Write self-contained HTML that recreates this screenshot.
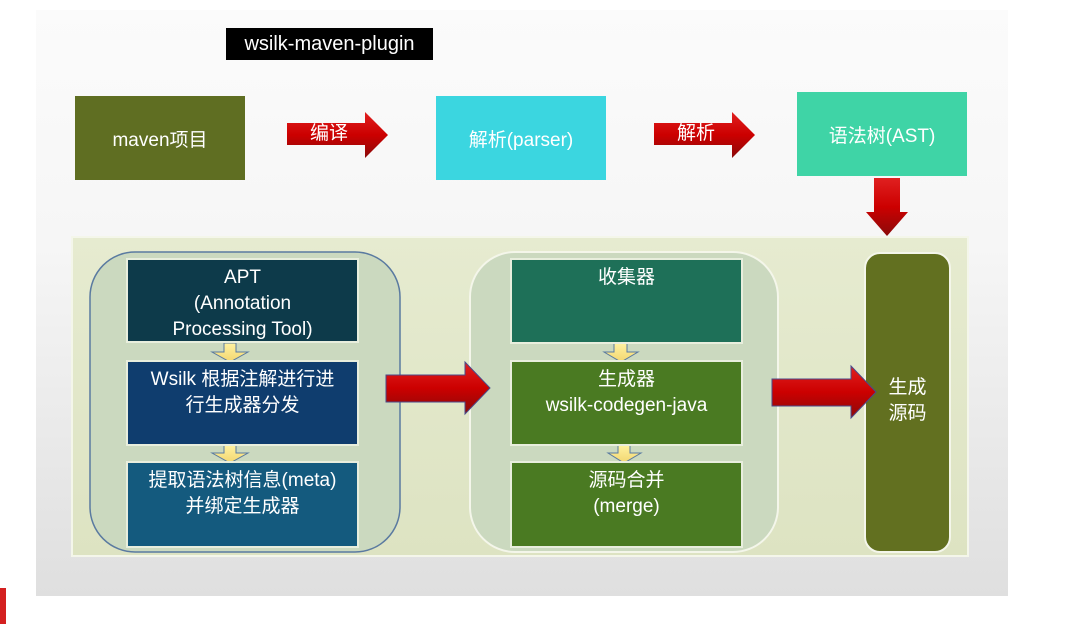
<!DOCTYPE html>
<html><head><meta charset="utf-8"><style>
*{margin:0;padding:0;box-sizing:border-box}
body{width:1074px;height:624px;background:#fff;position:relative;overflow:hidden;font-family:"Liberation Sans","Noto Sans CJK SC",sans-serif}
.a{position:absolute}
.box{position:absolute;color:#fff;text-align:center;display:flex;align-items:center;justify-content:center}
.ib{position:absolute;color:#fff;text-align:center;font-size:19px;line-height:26px;border:2px solid #e8eedd}
</style></head><body>
<div class="a" style="left:36px;top:10px;width:972px;height:586px;background:linear-gradient(#fbfbfb,#f6f6f6 40%,#dfdfdf)"></div>
<div class="a" style="left:0;top:588px;width:6px;height:36px;background:#d42020"></div>
<div class="box" style="left:226px;top:28px;width:207px;height:32px;background:#000;font-size:20px">wsilk-maven-plugin</div>
<div class="box" style="left:75px;top:96px;width:170px;height:84px;background:#5f6e22;font-size:19px">maven项目</div>
<div class="box" style="left:436px;top:96px;width:170px;height:84px;background:#3bd6e0;font-size:19px">解析(parser)</div>
<div class="box" style="left:797px;top:92px;width:170px;height:84px;background:#3fd4a6;font-size:19px">语法树(AST)</div>
<svg class="a" style="left:0;top:0" width="1074" height="624">
<defs>
<linearGradient id="r" x1="0" y1="0" x2="0" y2="1"><stop offset="0" stop-color="#e02020"/><stop offset="0.5" stop-color="#cc0000"/><stop offset="1" stop-color="#8a0a0a"/></linearGradient>
<linearGradient id="g" x1="0" y1="0" x2="0" y2="1"><stop offset="0" stop-color="#e6ebd0"/><stop offset="1" stop-color="#dde3c2"/></linearGradient>
<linearGradient id="y" x1="0" y1="0" x2="0" y2="1"><stop offset="0" stop-color="#fff2a0"/><stop offset="1" stop-color="#f2d670"/></linearGradient>
</defs>
<polygon points="287,123 365,123 365,112 388,135 365,158 365,145 287,145" fill="url(#r)"/>
<polygon points="654,123 732,123 732,112 755,135 732,158 732,145 654,145" fill="url(#r)"/>
<polygon points="874,178 900,178 900,212 908,212 887,236 866,212 874,212" fill="url(#r)"/>
<rect x="72" y="237" width="896" height="319" fill="url(#g)" stroke="#f4f6ea" stroke-width="2"/>
<rect x="90" y="252" width="310" height="300" rx="45" fill="#cbd9bf" stroke="#5a7aa0" stroke-width="1.5"/>
<rect x="470" y="252" width="308" height="300" rx="45" fill="#cbd9bf" stroke="#f4f6ea" stroke-width="2"/>
<rect x="865" y="253" width="85" height="299" rx="15" fill="#627020" stroke="#f4f6ea" stroke-width="2"/>
<polygon points="386,375 465,375 465,362 490,388 465,414 465,402 386,402" fill="url(#r)" stroke="#4a4a8a" stroke-width="1"/>
<polygon points="772,379 851,379 851,366 876,392 851,418 851,406 772,406" fill="url(#r)" stroke="#4a4a8a" stroke-width="1"/>
<polygon points="224,343 236,343 236,352 248,352 230,362 212,352 224,352" fill="url(#y)" stroke="#5a7aa0"/>
<polygon points="224,445 236,445 236,453 248,453 230,463 212,453 224,453" fill="url(#y)" stroke="#5a7aa0"/>
<polygon points="614,343 627,343 627,352 638,352 621,362 604,352 614,352" fill="url(#y)" stroke="#5a7aa0"/>
<polygon points="618,445 630,445 630,453 641,453 624,463 608,453 618,453" fill="url(#y)" stroke="#5a7aa0"/>
</svg>
<div class="a" style="left:310px;top:122px;font-size:19px;color:#fff;line-height:24px">编译</div>
<div class="a" style="left:677px;top:122px;font-size:19px;color:#fff;line-height:24px">解析</div>
<div class="ib" style="left:126px;top:258px;width:233px;height:85px;background:#0d3a4a;padding-top:5px">APT<br>(Annotation<br>Processing Tool)</div>
<div class="ib" style="left:126px;top:360px;width:233px;height:86px;background:#0f3d6e;padding-top:5px">Wsilk 根据注解进行进<br>行生成器分发</div>
<div class="ib" style="left:126px;top:461px;width:233px;height:87px;background:#145a7e;padding-top:5px">提取语法树信息(meta)<br>并绑定生成器</div>
<div class="ib" style="left:510px;top:258px;width:233px;height:86px;background:#1e7058;padding-top:5px">收集器</div>
<div class="ib" style="left:510px;top:360px;width:233px;height:86px;background:#4a7a22;padding-top:5px">生成器<br>wsilk-codegen-java</div>
<div class="ib" style="left:510px;top:461px;width:233px;height:87px;background:#4a7a22;padding-top:5px">源码合并<br>(merge)</div>
<div class="a" style="left:865px;top:375px;width:85px;text-align:center;color:#fff;font-size:19px;line-height:26px">生成<br>源码</div>
</body></html>
